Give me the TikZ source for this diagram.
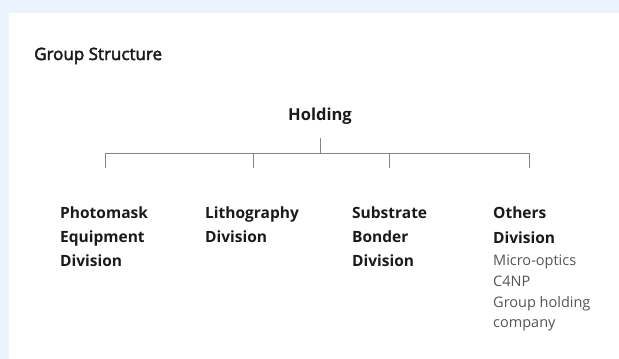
\documentclass[tikz,border=0pt]{standalone}
\usepackage{fontspec}
\setmainfont{Open Sans}
% medium-weight heading: regular glyphs filled and lightly outlined
\newcommand\mediumtext[1]{\special{pdf:literal direct 0.45 w 2 Tr}#1\special{pdf:literal direct 0 Tr}}
\definecolor{pagebg}{HTML}{EBF3FC}
\definecolor{rulegray}{HTML}{858585}
\definecolor{inkdark}{HTML}{1A1A1A}
\definecolor{inksoft}{HTML}{555555}
\begin{document}
\begin{tikzpicture}[x=1pt,y=-1pt,
  division/.style={anchor=north west, inner sep=0pt, align=left, text=inkdark,
    font=\fontsize{15.5}{24.2}\selectfont\bfseries},
  member/.style={anchor=north west, inner sep=0pt, align=left, text=inksoft,
    font=\fontsize{14.5}{20.6}\selectfont},
  tree/.style={draw=rulegray, line width=1pt}]
  % page background and white panel
  \fill[pagebg] (0,0) rectangle (619,359);
  \fill[white] (9,13) rectangle (619,359);
  \useasboundingbox (0,0) rectangle (619,359);

  \node[anchor=base west, inner sep=0pt, text=inkdark,
    font=\fontsize{17}{20}\selectfont] (title) at (34,60) {\mediumtext{Group Structure}};

  \node[anchor=base, inner sep=0pt, text=inkdark,
    font=\fontsize{16.5}{20}\selectfont\bfseries] (holding) at (320,120.5) {Holding};

  % tree connectors
  \coordinate (top) at (320,138);
  \coordinate (bar) at (320,153);
  \coordinate (d1) at (105,168);
  \coordinate (d2) at (253,168);
  \coordinate (d3) at (389,168);
  \coordinate (d4) at (529,168);
  \draw[tree] (top) -- (bar);
  \draw[tree] (d1) |- (d4 |- bar) -- (d4);
  \draw[tree] (d2) -- (d2 |- bar);
  \draw[tree] (d3) -- (d3 |- bar);

  \node[division] (photomask) at (60,206.5) {Photomask\\Equipment\\Division};
  \node[division] (litho) at (205,206.5) {Lithography\\Division};
  \node[division] (substrate) at (352,206.5) {Substrate\\Bonder\\Division};
  \node[division] (others) at (493,207) {Others\\Division};
  \node[member] (units) at (493,255) {Micro-optics\\C4NP\\Group holding\\company};
\end{tikzpicture}
\end{document}
